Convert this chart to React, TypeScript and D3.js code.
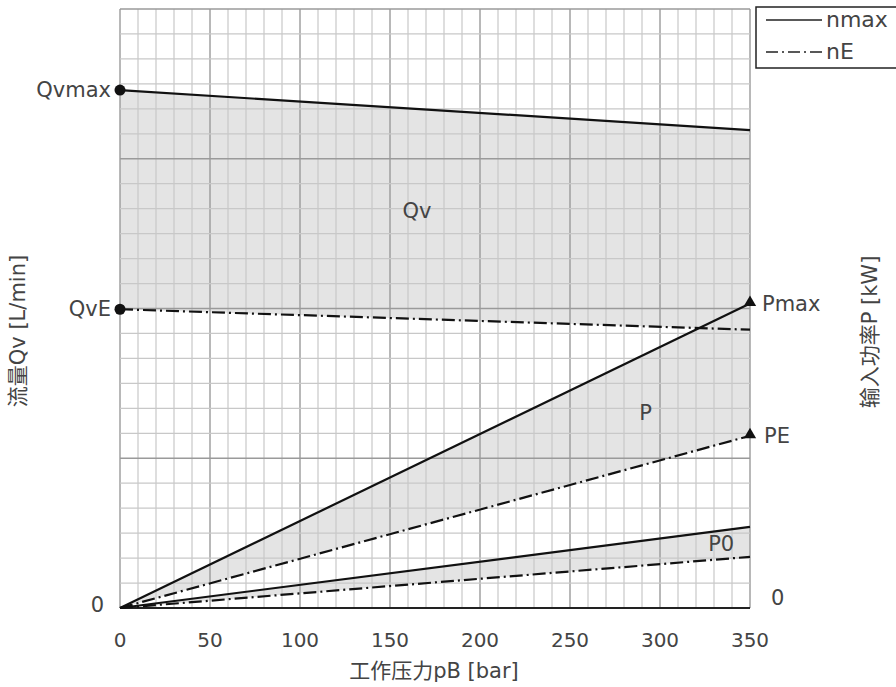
import { useEffect, useRef } from 'react'
import * as d3 from 'd3'

// 泵特性曲线：流量 Qv / 输入功率 P 随工作压力 pB 的变化
// y 轴没有刻度数值，这里用网格格数 (0..24) 作为统一的纵向单位
const pressure = [0, 350]
const qvMax = [20.75, 19.15]
const qvE = [11.97, 11.15]
const pMax = [0, 12.2]
const pE = [0, 6.9]
const p0Max = [0, 3.25]
const p0E = [0, 2.05]

const xTicks = [0, 50, 100, 150, 200, 250, 300, 350]
const legendItems = [
  { label: 'nmax', dash: null },
  { label: 'nE', dash: '12,4,2,4' },
]

const FONT = '"DejaVu Sans", "Noto Sans CJK SC", sans-serif'
const TEXT = '#444'
const DASH = '13,4,2,4'

export default function App() {
  const ref = useRef<SVGSVGElement>(null)

  useEffect(() => {
    document.body.style.margin = '0'
    const W = 896, H = 687
    const M = { top: 9, right: 146, bottom: 79, left: 120 }
    const iw = W - M.left - M.right
    const ih = H - M.top - M.bottom

    const svg = d3.select(ref.current)
    svg.selectAll('*').remove()
    svg.attr('viewBox', `0 0 ${W} ${H}`).attr('width', W).attr('height', H)
    svg.append('rect').attr('width', W).attr('height', H).attr('fill', '#fff')

    const x = d3.scaleLinear().domain([0, 350]).range([0, iw])
    const y = d3.scaleLinear().domain([0, 24]).range([ih, 0])

    const g = svg.append('g').attr('transform', `translate(${M.left},${M.top})`)

    // shaded bands
    const band = (hi: number[], lo: number[]) =>
      d3.area<number>()
        .x(d => x(d))
        .y0((d, i) => y(lo[i]))
        .y1((d, i) => y(hi[i]))(pressure)
    g.append('path').attr('d', band(qvMax, qvE)).attr('fill', '#e4e4e4')
    g.append('path').attr('d', band(pMax, pE)).attr('fill', '#e4e4e4')
    g.append('path').attr('d', band(p0Max, p0E)).attr('fill', '#e4e4e4')

    // grid
    const grid = g.append('g')
    d3.range(0, 351, 10).forEach(v => {
      grid.append('line')
        .attr('x1', x(v)).attr('x2', x(v)).attr('y1', 0).attr('y2', ih)
        .attr('stroke', v % 50 === 0 ? '#9a9a9a' : '#c8c8c8')
        .attr('stroke-width', v % 50 === 0 ? 1.4 : 1.2)
    })
    d3.range(0, 25, 1).forEach(v => {
      grid.append('line')
        .attr('x1', 0).attr('x2', iw).attr('y1', y(v)).attr('y2', y(v))
        .attr('stroke', v % 6 === 0 ? '#9a9a9a' : '#c8c8c8')
        .attr('stroke-width', v % 6 === 0 ? 1.4 : 1.2)
    })
    g.append('line').attr('x1', 0).attr('x2', iw).attr('y1', ih).attr('y2', ih)
      .attr('stroke', '#222').attr('stroke-width', 2)

    // curves
    const draw = (vals: number[], dash: string | null) => {
      g.append('path')
        .attr('d', d3.line<number>().x(d => x(d)).y((d, i) => y(vals[i]))(pressure))
        .attr('fill', 'none').attr('stroke', '#111').attr('stroke-width', 2.2)
        .attr('stroke-dasharray', dash)
    }
    draw(qvMax, null)
    draw(qvE, DASH)
    draw(pMax, null)
    draw(pE, DASH)
    draw(p0Max, null)
    draw(p0E, DASH)

    // markers
    g.append('circle').attr('cx', x(0)).attr('cy', y(qvMax[0])).attr('r', 5.5).attr('fill', '#111')
    g.append('circle').attr('cx', x(0)).attr('cy', y(qvE[0])).attr('r', 5.5).attr('fill', '#111')
    const tri = d3.symbol().type(d3.symbolTriangle).size(65)
    g.append('path').attr('d', tri()).attr('fill', '#111')
      .attr('transform', `translate(${x(350)},${y(pMax[1]) - 1})`)
    g.append('path').attr('d', tri()).attr('fill', '#111')
      .attr('transform', `translate(${x(350)},${y(pE[1]) - 1})`)

    const txt = (tx: number, ty: number, s: string, anchor = 'start', size = 21) =>
      svg.append('text').attr('x', tx).attr('y', ty).text(s)
        .attr('text-anchor', anchor).attr('font-family', FONT)
        .attr('font-size', size).attr('fill', TEXT)

    // left labels
    txt(M.left - 9, M.top + y(qvMax[0]) + 7, 'Qvmax', 'end')
    txt(M.left - 9, M.top + y(qvE[0]) + 7, 'QvE', 'end')
    txt(M.left - 16, M.top + ih + 4, '0', 'end')
    // right labels
    txt(M.left + iw + 12, M.top + y(pMax[1]) + 7, 'Pmax')
    txt(M.left + iw + 14, M.top + y(pE[1]) + 7, 'PE')
    txt(M.left + iw + 21, M.top + ih - 3, '0')
    // area labels
    txt(M.left + x(165), M.top + y(15.9) + 7, 'Qv', 'middle')
    txt(M.left + x(292), M.top + y(7.8) + 7, 'P', 'middle')
    txt(M.left + x(334), M.top + y(2.55) + 7, 'P0', 'middle')

    // x ticks
    xTicks.forEach(v => txt(M.left + x(v), M.top + ih + 39, String(v), 'middle', 20))
    txt(M.left + iw / 2 - 1, M.top + ih + 70, '工作压力pB [bar]', 'middle', 21)

    // y titles
    svg.append('text').attr('transform', `translate(25,331) rotate(-90)`)
      .attr('text-anchor', 'middle').attr('font-family', FONT).attr('font-size', 21)
      .attr('fill', TEXT).text('流量Qv [L/min]')
    svg.append('text').attr('transform', `translate(877,332) rotate(-90)`)
      .attr('text-anchor', 'middle').attr('font-family', FONT).attr('font-size', 21)
      .attr('fill', TEXT).text('输入功率P [kW]')

    // legend
    const lg = svg.append('g').attr('transform', 'translate(756,7)')
    lg.append('rect').attr('width', 150).attr('height', 61)
      .attr('fill', '#fff').attr('stroke', '#222').attr('stroke-width', 1.5)
    legendItems.forEach((it, i) => {
      const ly = 13 + i * 32
      lg.append('line').attr('x1', 10).attr('x2', 66).attr('y1', ly).attr('y2', ly)
        .attr('stroke', '#222').attr('stroke-width', 1.5)
        .attr('stroke-dasharray', it.dash)
      lg.append('text').attr('x', 70).attr('y', ly + 7).text(it.label)
        .attr('font-family', FONT).attr('font-size', 22).attr('fill', TEXT)
    })
  }, [])

  return <svg ref={ref} style={{ display: 'block' }} />
}
